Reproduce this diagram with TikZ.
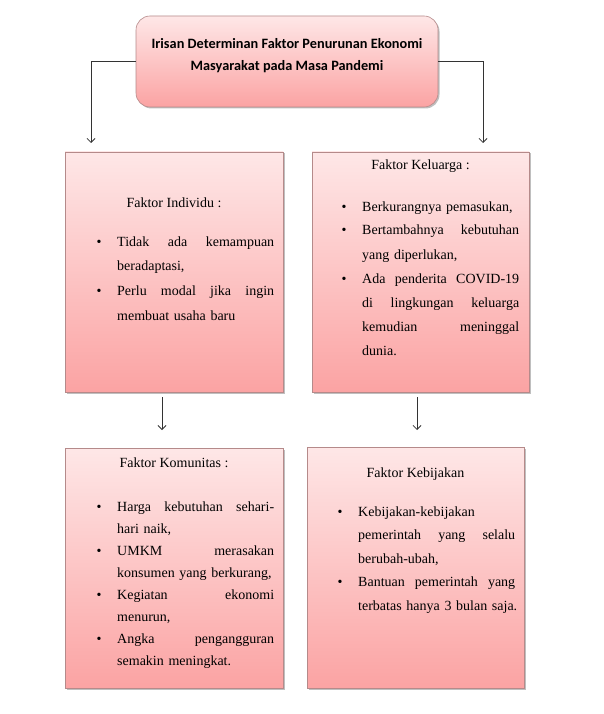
\documentclass[tikz,border=0pt]{standalone}
\usepackage{fontspec}
\setmainfont{Liberation Serif}
\newfontfamily\titlefont{Carlito}
\usetikzlibrary{shadows,arrows.meta}
\definecolor{pinktop}{HTML}{FEE7E7}
\definecolor{pinkbot}{HTML}{FBA3A3}
\definecolor{boxline}{HTML}{B58A8A}
\definecolor{arrowcol}{HTML}{333333}
\newlength{\tw}
\setlength{\tw}{157pt}
\newcommand{\jline}[1]{\makebox[\tw][s]{\spaceskip=0.25em plus 20em\relax #1}}
\newcommand{\bul}{\makebox[20.5pt][l]{\textbullet}}
\newcommand{\ind}{\hspace*{20.5pt}}
\begin{document}
\begin{tikzpicture}[x=1pt,y=-1pt,
  factorbox/.style={draw=boxline, line width=0.6pt, top color=pinktop, bottom color=pinkbot,
    drop shadow={shadow xshift=1.5pt, shadow yshift=-1.5pt, opacity=0.25, fill=black},
    inner sep=0pt},
  titlebox/.style={factorbox, rounded corners=14pt},
  boxtitle/.style={anchor=base, font=\fontsize{14}{16}\selectfont, inner sep=0pt},
  listtext/.style={anchor=base west, align=left, inner sep=0pt, text width=220pt},
  conn/.style={draw=arrowcol, line width=0.8pt, -{Straight Barb[length=4pt,width=8pt]}}
]
\useasboundingbox (0,0) rectangle (603,714);
% boxes
\node[titlebox, minimum width=302pt, minimum height=91pt] (top) at (287,61.5) {};
\node[factorbox, minimum width=218pt, minimum height=240pt] (indiv) at (174,272) {};
\node[factorbox, minimum width=217pt, minimum height=240pt] (kel) at (420.5,272) {};
\node[factorbox, minimum width=218pt, minimum height=240pt] (kom) at (174,568) {};
\node[factorbox, minimum width=217pt, minimum height=241pt] (keb) at (415.5,567.5) {};
% title text
\node[anchor=base, inner sep=0pt, font=\titlefont\bfseries\fontsize{14.3}{22}\selectfont, align=center] (toptext) at (287,71)
  {Irisan Determinan Faktor Penurunan Ekonomi\\Masyarakat pada Masa Pandemi};
% box titles
\node[boxtitle] (t1) at (174,207) {Faktor Individu :};
\node[boxtitle] (t2) at (420.5,170) {Faktor Keluarga :};
\node[boxtitle] (t3) at (174,467) {Faktor Komunitas :};
\node[boxtitle] (t4) at (415.5,477) {Faktor Kebijakan};
% lists
\node[listtext, font=\fontsize{14}{24.7}\selectfont] (l1) at (96.5,246) {%
\bul\jline{Tidak ada kemampuan}\\
\ind beradaptasi,\\
\bul\jline{Perlu modal jika ingin}\\
\ind membuat usaha baru};
\node[listtext, font=\fontsize{14}{24}\selectfont] (l2) at (341.5,211) {%
\bul Berkurangnya pemasukan,\\
\bul\jline{Bertambahnya kebutuhan}\\
\ind yang diperlukan,\\
\bul\jline{Ada penderita COVID-19}\\
\ind\jline{di lingkungan keluarga}\\
\ind\jline{kemudian meninggal}\\
\ind dunia.};
\node[listtext, font=\fontsize{14}{22.1}\selectfont] (l3) at (96.5,511) {%
\bul\jline{Harga kebutuhan sehari-}\\
\ind hari naik,\\
\bul\jline{UMKM merasakan}\\
\ind konsumen yang berkurang,\\
\bul\jline{Kegiatan ekonomi}\\
\ind menurun,\\
\bul\jline{Angka pengangguran}\\
\ind semakin meningkat.};
\node[listtext, font=\fontsize{14}{23.6}\selectfont] (l4) at (337.5,516) {%
\bul Kebijakan-kebijakan\\
\ind\jline{pemerintah yang selalu}\\
\ind berubah-ubah,\\
\bul\jline{Bantuan pemerintah yang}\\
\ind terbatas hanya 3 bulan saja.};
% connectors
\coordinate (aL) at (91,143);
\coordinate (aR) at (483,143);
\draw[conn] (top.west) -| (aL);
\draw[conn] (top.east) -| (aR);
\coordinate (d1s) at (162,397);
\coordinate (d1e) at (162,430);
\coordinate (d2s) at (417,397);
\coordinate (d2e) at (417,430);
\draw[conn] (d1s) -- (d1e);
\draw[conn] (d2s) -- (d2e);
\end{tikzpicture}
\end{document}
